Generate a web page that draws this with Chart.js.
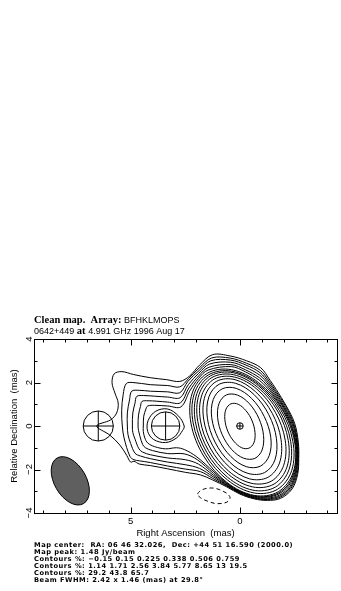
<!DOCTYPE html>
<html>
<head>
<meta charset="utf-8">
<script src="https://cdn.jsdelivr.net/npm/chart.js@4.4.0/dist/chart.umd.min.js"></script>
<style>
  html, body { margin: 0; padding: 0; background: #fff; }
</style>
</head>
<body>
<canvas id="cleanMap" width="341" height="591"></canvas>
<script>
// contour levels in % of the map peak (from the caption)
const contourLevels = [-0.15, 0.15, 0.225, 0.338, 0.506, 0.759, 1.14, 1.71, 2.56, 3.84, 5.77, 8.65, 13, 19.5, 29.2, 43.8, 65.7];
const mapPeak = 1.48; // Jy/beam

// axis ticks (mas)
const xTickLabels = [5, 0];
const yTickLabels = [4, 2, 0, -2, -4];

// model components: RA offset, Dec offset, FWHM diameter (mas)
const compX = [0, 3.4, 6.48];
const compY = [0, 0, 0];
const compSize = [0.3, 1.3, 1.38];

// restoring beam
const beamX = 7.76, beamY = -2.52;
const beamMajor = 2.42, beamMinor = 1.46, beamPA = 29.8;

// contours, [RA offset, Dec offset] in mas
const cNeg015 = [[1.94,-3.13],[1.7,-2.92],[1.3,-2.85],[0.95,-2.92],[0.6,-3.1],[0.45,-3.3],[0.6,-3.5],[1.06,-3.57],[1.5,-3.45],[1.8,-3.3]];
const c015 = [[6.55,0.0],[5.92,0.28],[5.64,0.6],[5.57,1.06],[5.72,1.52],[5.85,1.99],[5.75,2.4],[5.4,2.5],[4.88,2.37],[4.1,2.22],[3.35,2.13],[2.75,2.05],[2.3,2.3],[1.85,2.8],[1.25,3.28],[0.45,3.22],[-0.3,3.0],[-0.95,2.68],[-1.38,2.1],[-1.66,1.68],[-2.12,0.92],[-2.5,0.13],[-2.67,-0.75],[-2.69,-1.5],[-2.64,-2.22],[-2.38,-2.9],[-1.85,-3.33],[-1.25,-3.42],[-0.65,-3.35],[0.0,-3.13],[0.6,-2.8],[1.25,-2.48],[1.8,-2.25],[2.5,-2.13],[3.3,-1.97],[4.1,-1.82],[4.6,-1.75],[4.85,-1.62],[5.0,-1.66],[5.18,-1.35],[5.49,-0.88],[5.95,-0.42]];
const c0225 = [[5.38,0.0],[5.41,0.7],[5.34,1.45],[5.2,1.95],[4.9,2.0],[4.1,1.9],[3.3,1.86],[2.75,1.8],[2.35,2.18],[1.86,2.67],[1.29,3.13],[0.44,3.12],[-0.29,2.89],[-0.93,2.56],[-1.35,2.04],[-1.62,1.64],[-2.09,0.9],[-2.46,0.11],[-2.64,-0.75],[-2.67,-1.49],[-2.61,-2.2],[-2.34,-2.86],[-1.83,-3.28],[-1.25,-3.38],[-0.65,-3.32],[0.0,-3.1],[0.6,-2.76],[1.24,-2.41],[1.8,-2.1],[2.5,-1.98],[3.3,-1.84],[4.1,-1.68],[4.6,-1.6],[4.85,-1.55],[5.03,-1.4],[5.3,-0.55]];
const c0338 = [[5.15,0.0],[5.15,0.6],[5.05,1.2],[4.95,1.6],[4.6,1.64],[4.1,1.6],[3.3,1.57],[2.75,1.53],[2.38,2.05],[1.87,2.55],[1.33,3.0],[0.43,3.03],[-0.28,2.8],[-0.92,2.45],[-1.31,1.99],[-1.59,1.6],[-2.05,0.87],[-2.43,0.1],[-2.61,-0.74],[-2.64,-1.49],[-2.57,-2.19],[-2.31,-2.82],[-1.82,-3.23],[-1.25,-3.35],[-0.65,-3.3],[-0.01,-3.08],[0.6,-2.73],[1.23,-2.33],[1.85,-1.95],[2.5,-1.78],[3.3,-1.66],[4.1,-1.5],[4.55,-1.38],[4.8,-1.25],[5.0,-0.8],[5.12,-0.4]];
const c0506 = [[4.92,0.0],[4.9,0.6],[4.8,1.05],[4.72,1.36],[4.4,1.4],[3.9,1.37],[3.3,1.33],[2.74,1.3],[2.36,1.9],[1.88,2.43],[1.38,2.85],[0.42,2.93],[-0.27,2.69],[-0.9,2.34],[-1.28,1.93],[-1.55,1.56],[-2.02,0.85],[-2.39,0.09],[-2.59,-0.74],[-2.62,-1.48],[-2.54,-2.17],[-2.28,-2.78],[-1.81,-3.18],[-1.25,-3.31],[-0.65,-3.27],[-0.01,-3.06],[0.6,-2.7],[1.22,-2.26],[1.9,-1.75],[2.5,-1.55],[3.3,-1.47],[4.1,-1.32],[4.45,-1.2],[4.62,-1.05],[4.8,-0.6],[4.9,-0.3]];
const c0759 = [[4.66,0.0],[4.64,0.5],[4.55,0.9],[4.48,1.13],[4.2,1.16],[3.8,1.14],[3.3,1.1],[2.72,1.07],[2.33,1.75],[1.89,2.3],[1.42,2.7],[0.41,2.82],[-0.26,2.58],[-0.89,2.22],[-1.24,1.87],[-1.51,1.52],[-1.99,0.83],[-2.35,0.07],[-2.56,-0.74],[-2.6,-1.47],[-2.51,-2.15],[-2.24,-2.73],[-1.79,-3.12],[-1.24,-3.27],[-0.65,-3.24],[-0.01,-3.03],[0.6,-2.66],[1.2,-2.19],[1.95,-1.55],[2.55,-1.28],[3.3,-1.27],[4.0,-1.13],[4.32,-1.0],[4.45,-0.85],[4.58,-0.45],[4.64,-0.2]];
const c114 = [[4.42,0.0],[4.4,0.45],[4.3,0.78],[4.22,0.92],[3.9,0.95],[3.3,0.92],[2.7,0.88],[2.3,1.6],[1.9,2.18],[1.46,2.57],[0.4,2.73],[-0.25,2.49],[-0.88,2.11],[-1.2,1.8],[-1.48,1.48],[-1.95,0.8],[-2.32,0.06],[-2.53,-0.73],[-2.57,-1.47],[-2.47,-2.14],[-2.21,-2.69],[-1.78,-3.07],[-1.24,-3.24],[-0.65,-3.22],[-0.02,-3.01],[0.6,-2.63],[1.19,-2.11],[2.0,-1.4],[2.55,-1.08],[2.9,-1.0],[3.4,-1.05],[3.9,-0.95],[4.22,-0.78],[4.35,-0.55],[4.42,-0.25]];
const c171jet = [[2.55,0.0],[2.8,0.45],[3.3,0.78],[3.85,0.68],[4.2,0.25],[4.22,-0.25],[3.95,-0.62],[3.4,-0.76],[2.9,-0.55],[2.62,-0.2]];
const c171core = [[1.50,2.42],[2.18,1.52],[2.24,0.13],[1.66,-1.38],[0.60,-2.59],[-0.65,-3.19],[-1.76,-3.02],[-2.44,-2.12],[-2.50,-0.73],[-1.92,0.78],[-0.86,1.99],[0.39,2.59]];
const c256 = [[1.44,2.35],[2.09,1.48],[2.14,0.14],[1.58,-1.32],[0.56,-2.49],[-0.65,-3.08],[-1.72,-2.91],[-2.37,-2.04],[-2.42,-0.70],[-1.86,0.76],[-0.84,1.93],[0.37,2.52]];
const c384 = [[1.34,2.31],[1.97,1.49],[2.04,0.20],[1.52,-1.21],[0.56,-2.36],[-0.59,-2.95],[-1.62,-2.81],[-2.25,-1.99],[-2.32,-0.70],[-1.80,0.71],[-0.84,1.86],[0.31,2.45]];
const c577 = [[1.28,2.23],[1.87,1.45],[1.93,0.22],[1.44,-1.13],[0.52,-2.23],[-0.58,-2.80],[-1.56,-2.67],[-2.15,-1.89],[-2.21,-0.66],[-1.72,0.69],[-0.80,1.79],[0.30,2.36]];
const c865 = [[1.17,2.16],[1.74,1.43],[1.81,0.27],[1.36,-1.01],[0.51,-2.08],[-0.51,-2.63],[-1.43,-2.54],[-2.00,-1.81],[-2.07,-0.65],[-1.62,0.63],[-0.77,1.70],[0.25,2.25]];
const c13 = [[1.06,2.06],[1.59,1.40],[1.66,0.32],[1.26,-0.88],[0.49,-1.88],[-0.44,-2.43],[-1.28,-2.36],[-1.81,-1.70],[-1.88,-0.62],[-1.48,0.58],[-0.71,1.58],[0.22,2.13]];
const c195 = [[0.95,1.92],[1.42,1.34],[1.49,0.36],[1.14,-0.74],[0.46,-1.67],[-0.37,-2.18],[-1.13,-2.14],[-1.60,-1.56],[-1.67,-0.58],[-1.32,0.52],[-0.64,1.45],[0.19,1.96]];
const c292 = [[0.81,1.71],[1.22,1.22],[1.29,0.38],[0.99,-0.58],[0.42,-1.40],[-0.29,-1.87],[-0.93,-1.85],[-1.34,-1.36],[-1.41,-0.52],[-1.11,0.44],[-0.54,1.26],[0.17,1.73]];
const c438 = [[0.62,1.43],[0.95,1.05],[1.02,0.38],[0.81,-0.40],[0.37,-1.09],[-0.17,-1.48],[-0.68,-1.49],[-1.01,-1.11],[-1.08,-0.44],[-0.87,0.34],[-0.43,1.03],[0.11,1.42]];
const c657 = [[0.41,1.02],[0.64,0.77],[0.69,0.31],[0.56,-0.23],[0.28,-0.70],[-0.08,-1.00],[-0.41,-1.02],[-0.64,-0.77],[-0.69,-0.31],[-0.56,0.23],[-0.28,0.70],[0.08,1.00]];

const contourPaths = [
  [-0.15, cNeg015], [0.15, c015], [0.225, c0225], [0.338, c0338], [0.506, c0506],
  [0.759, c0759], [1.14, c114], [1.71, c171jet], [1.71, c171core], [2.56, c256],
  [3.84, c384], [5.77, c577], [8.65, c865], [13, c13], [19.5, c195],
  [29.2, c292], [43.8, c438], [65.7, c657]
];

const titleLine1 = [["Clean map.  Array: ", "serif"], ["BFHKLMOPS", "sans"]];
const titleLine2 = [["0642+449 ", "sans"], ["at ", "serif"], ["4.991 GHz 1996 Aug 17", "sans"]];
const captionLines = [
  "Map center:  RA: 06 46 32.026,  Dec: +44 51 16.590 (2000.0)",
  "Map peak: " + mapPeak + " Jy/beam",
  "Contours %: \u22120.15 0.15 0.225 0.338 0.506 0.759",
  "Contours %: 1.14 1.71 2.56 3.84 5.77 8.65 13 19.5",
  "Contours %: 29.2 43.8 65.7",
  "Beam FWHM: 2.42 x 1.46 (mas) at 29.8\u00b0"
];

const fonts = {
  serif: "bold 10.5px 'Liberation Serif', serif",
  sans: "9px 'Liberation Sans', Arial, sans-serif",
};
const fmt = (v) => (v < 0 ? "\u2212" + Math.abs(v) : String(v));

// close every contour into a smooth loop (same trick the radar controller uses)
const closeLoops = {
  id: "closeLoops",
  afterDatasetsUpdate(chart) {
    chart.data.datasets.forEach((ds, i) => {
      const line = chart.getDatasetMeta(i).dataset;
      if (!line) return;
      line._loop = true;
      line._fullLoop = true;
      line._pointsUpdated = false;
      delete line._segments;
      delete line._path;
    });
  },
};

const decorations = {
  id: "decorations",
  afterDatasetsDraw(chart) {
    const ctx = chart.ctx;
    const xs = chart.scales.x, ys = chart.scales.y;
    const kx = xs.getPixelForValue(1) - xs.getPixelForValue(0);
    const ky = ys.getPixelForValue(1) - ys.getPixelForValue(0);
    ctx.save();
    ctx.strokeStyle = "#000";
    ctx.lineWidth = 1;

    // beam ellipse
    ctx.save();
    ctx.translate(xs.getPixelForValue(beamX), ys.getPixelForValue(beamY));
    ctx.scale(kx, ky);
    ctx.beginPath();
    ctx.ellipse(0, 0, beamMajor / 2, beamMinor / 2, (90 - beamPA) * Math.PI / 180, 0, Math.PI * 2);
    ctx.restore();
    ctx.fillStyle = "#5f5f5f";
    ctx.fill();
    ctx.stroke();

    // model components: circle with a cross
    compX.forEach((cx, i) => {
      const px = xs.getPixelForValue(cx), py = ys.getPixelForValue(compY[i]);
      const rx = Math.abs(kx) * compSize[i] / 2, ry = Math.abs(ky) * compSize[i] / 2;
      ctx.beginPath();
      ctx.ellipse(px, py, rx, ry, 0, 0, Math.PI * 2);
      ctx.moveTo(px - rx, py); ctx.lineTo(px + rx, py);
      ctx.moveTo(px, py - ry); ctx.lineTo(px, py + ry);
      ctx.stroke();
    });
    ctx.restore();
  },
  afterDraw(chart) {
    const ctx = chart.ctx;
    const a = chart.chartArea;
    const xs = chart.scales.x, ys = chart.scales.y;
    const L = Math.round(a.left) + 0.5, R = Math.round(a.right) + 0.5;
    const T = Math.round(a.top) + 0.5, B = Math.round(a.bottom) + 0.5;
    ctx.save();
    ctx.strokeStyle = "#000";
    ctx.fillStyle = "#000";
    ctx.lineWidth = 1;
    ctx.strokeRect(L, T, R - L, B - T);

    // inward ticks on all four sides
    ctx.beginPath();
    for (let v = Math.ceil(xs.min); v <= Math.floor(xs.max); v++) {
      const p = Math.round(xs.getPixelForValue(v)) + 0.5;
      const len = v % 5 === 0 ? 6 : 3;
      ctx.moveTo(p, B); ctx.lineTo(p, B - len);
      ctx.moveTo(p, T); ctx.lineTo(p, T + len);
    }
    for (let v = Math.ceil(ys.min); v <= Math.floor(ys.max); v++) {
      const p = Math.round(ys.getPixelForValue(v)) + 0.5;
      const len = v % 2 === 0 ? 6 : 3;
      ctx.moveTo(L, p); ctx.lineTo(L + len, p);
      ctx.moveTo(R, p); ctx.lineTo(R - len, p);
    }
    ctx.stroke();

    // tick labels
    ctx.font = "9.5px 'Liberation Sans', Arial, sans-serif";
    ctx.textAlign = "center";
    ctx.textBaseline = "alphabetic";
    xTickLabels.forEach((v) => ctx.fillText(fmt(v), xs.getPixelForValue(v), a.bottom + 11));
    yTickLabels.forEach((v) => {
      ctx.save();
      ctx.translate(a.left - 2.5, ys.getPixelForValue(v));
      ctx.rotate(-Math.PI / 2);
      ctx.fillText(fmt(v), 0, 0);
      ctx.restore();
    });

    // axis titles
    ctx.fillText("Right Ascension  (mas)", (a.left + a.right) / 2, a.bottom + 23);
    ctx.save();
    ctx.translate(17, (a.top + a.bottom) / 2);
    ctx.rotate(-Math.PI / 2);
    ctx.fillText("Relative Declination  (mas)", 0, 0);
    ctx.restore();

    // title lines
    ctx.textAlign = "left";
    [[titleLine1, 322.5], [titleLine2, 334]].forEach(([runs, y]) => {
      let x = a.left;
      runs.forEach(([text, f]) => {
        ctx.font = fonts[f];
        ctx.fillText(text, x, y);
        x += ctx.measureText(text).width;
      });
    });

    // caption
    ctx.font = "bold 6.7px 'DejaVu Sans', 'Liberation Sans', sans-serif";
    ctx.letterSpacing = "0.5px";
    captionLines.forEach((line, i) => ctx.fillText(line, a.left, a.bottom + 33.5 + i * 7));
    ctx.restore();
  },
};

new Chart(document.getElementById("cleanMap"), {
  type: "line",
  data: {
    datasets: contourPaths.map(([lvl, pts]) => ({
      label: lvl + " %",
      data: pts.map(([x, y]) => ({ x, y })),
      borderColor: "#000",
      borderWidth: 1,
      borderDash: lvl < 0 ? [4, 3] : [],
      pointRadius: 0,
      pointHoverRadius: 0,
      tension: 0.35,
      fill: false,
    })),
  },
  plugins: [closeLoops, decorations],
  options: {
    responsive: false,
    animation: false,
    events: [],
    layout: { padding: { left: 34, right: 4, top: 339, bottom: 78 } },
    plugins: {
      legend: { display: false },
      tooltip: { enabled: false },
      title: { display: false },
    },
    scales: {
      x: { type: "linear", min: -4.44, max: 9.42, reverse: true, display: false },
      y: { type: "linear", min: -4, max: 4, display: false },
    },
  },
});
</script>
</body>
</html>
